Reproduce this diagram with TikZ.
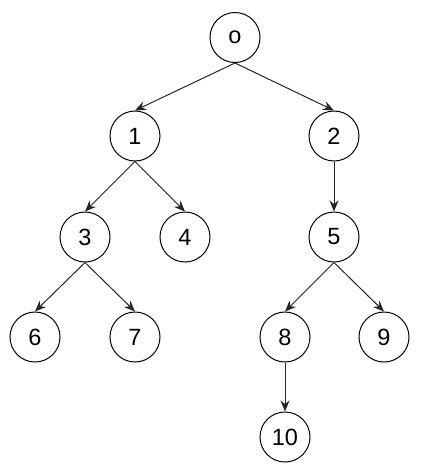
\documentclass[tikz,border=0pt]{standalone}
\usepackage{fontspec}
\setmainfont{Liberation Sans}
\usetikzlibrary{arrows.meta}

\begin{document}
\begin{tikzpicture}[
    x=1pt, y=-1pt,
    vert/.style={circle, draw=black, line width=1pt, minimum size=50pt, inner sep=0pt, font=\fontsize{23.5}{26}\selectfont},
    arrow/.style={-{Stealth[length=11pt, width=9pt]}, line width=1pt, draw=black!85}
]
    \useasboundingbox (0,0) rectangle (421,472);

    \node [vert] (o) at (235,37.5) {o};
    \node [vert] (n1) at (135,136) {1};
    \node [vert] (n2) at (334,136) {2};
    \node [vert] (n3) at (85,237) {3};
    \node [vert] (n4) at (185,237) {4};
    \node [vert] (n5) at (334,237) {5};
    \node [vert] (n6) at (35,337) {6};
    \node [vert] (n7) at (135,337) {7};
    \node [vert] (n8) at (285,337) {8};
    \node [vert] (n9) at (384,337) {9};
    \node [vert] (n10) at (285,437) {10};

    \draw [arrow] (o.south) -- (n1.north);
    \draw [arrow] (o.south) -- (n2.north);
    \draw [arrow] (n1.south) -- (n3.north);
    \draw [arrow] (n1.south) -- (n4.north);
    \draw [arrow] (n2.south) -- (n5.north);
    \draw [arrow] (n3.south) -- (n6.north);
    \draw [arrow] (n3.south) -- (n7.north);
    \draw [arrow] (n5.south) -- (n8.north);
    \draw [arrow] (n5.south) -- (n9.north);
    \draw [arrow] (n8.south) -- (n10.north);
\end{tikzpicture}
\end{document}
